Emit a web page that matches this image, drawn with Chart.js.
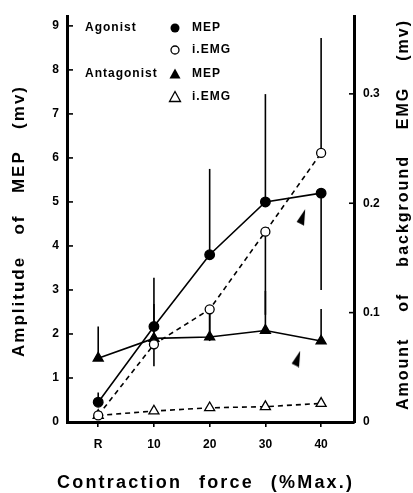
<!DOCTYPE html>
<html>
<head>
<meta charset="utf-8">
<script src="https://cdn.jsdelivr.net/npm/chart.js@4/dist/chart.umd.min.js"></script>
<style>
html,body{margin:0;padding:0;background:#fff;}
#wrap{width:413px;height:493px;position:relative;}
</style>
</head>
<body>
<div id="wrap"><canvas id="c" width="413" height="493"></canvas></div>
<script>
// ---- data ----
const categories = ['R', '10', '20', '30', '40'];
const forceX = [0, 10, 20, 30, 40];

const agonistMEP      = [0.45, 2.17, 3.80, 5.00, 5.20];
const agonistMEPUpper = [0.67, 3.28, 5.75, 7.45, null];
const agonistMEPLower = [null, null, null, null, 3.00];

const agonistEMG      = [0.006, 0.071, 0.103, 0.174, 0.246];
const agonistEMGUpper = [null, null, null, null, 0.351];
const agonistEMGLower = [null, 0.051, 0.074, 0.098, null];

const antagonistMEP      = [1.45, 1.90, 1.93, 2.08, 1.84];
const antagonistMEPUpper = [2.17, 2.68, 2.50, 2.98, 2.57];

const antagonistEMG = [0.006, 0.010, 0.013, 0.014, 0.017];

const leftTicks  = [0, 1, 2, 3, 4, 5, 6, 7, 8, 9];
const rightTicks = [0, 0.1, 0.2, 0.3];

const arrowX = [36.4, 35.5];
const arrowY = [4.65, 1.43];

// ---- helpers ----
const FONT = "'Liberation Sans', Arial, Helvetica, sans-serif";
Chart.defaults.font.family = FONT;
Chart.defaults.font.weight = 'bold';
Chart.defaults.color = '#000';

function pts(xs, ys) { return xs.map((x, i) => ({ x: x, y: ys[i] })); }

const dart = document.createElement('canvas');
dart.width = 10; dart.height = 17;
(function () {
  const d = dart.getContext('2d');
  d.fillStyle = '#000';
  d.beginPath();
  d.moveTo(9.2, 0.3);
  d.lineTo(0.6, 13.0);
  d.lineTo(8.0, 16.7);
  d.closePath();
  d.fill();
})();

// draw a line of words along +x, from start to end, uniform letter spacing, gaps fitted
function drawSpacedLine(ctx, words, start, end, size, ls) {
  ctx.font = 'bold ' + size + 'px ' + FONT;
  ctx.letterSpacing = '0px';
  const widths = words.map(w => ctx.measureText(w).width + ls * (w.length - 1));
  const total = widths.reduce((s, v) => s + v, 0);
  const gap = (end - start - total) / (words.length - 1);
  ctx.letterSpacing = ls + 'px';
  ctx.textAlign = 'left';
  ctx.textBaseline = 'middle';
  let x = start;
  words.forEach((w, i) => {
    ctx.fillText(w, x, 0);
    x += widths[i] + gap;
  });
  ctx.letterSpacing = '0px';
}

const errorBars = [
  { axis: 'y', vals: agonistMEP, hi: agonistMEPUpper, lo: agonistMEPLower },
  { axis: 'y2', vals: agonistEMG, hi: agonistEMGUpper, lo: agonistEMGLower },
  { axis: 'y', vals: antagonistMEP, hi: antagonistMEPUpper, lo: null }
];

const figurePlugin = {
  id: 'figure',
  beforeDatasetsDraw(chart) {
    const ctx = chart.ctx, xs = chart.scales.x;
    ctx.save();
    ctx.strokeStyle = '#000';
    ctx.lineWidth = 1.6;
    errorBars.forEach(b => {
      const ys = chart.scales[b.axis];
      b.vals.forEach((v, i) => {
        const px = xs.getPixelForValue(forceX[i]);
        const py = ys.getPixelForValue(v);
        [b.hi, b.lo].forEach(arr => {
          if (!arr || arr[i] == null) return;
          ctx.beginPath();
          ctx.moveTo(px, py);
          ctx.lineTo(px, ys.getPixelForValue(arr[i]));
          ctx.stroke();
        });
      });
    });
    ctx.restore();
  },
  afterDraw(chart) {
    const ctx = chart.ctx, a = chart.chartArea;
    const y = chart.scales.y, y2 = chart.scales.y2;
    ctx.save();
    ctx.strokeStyle = '#000';
    ctx.fillStyle = '#000';
    // inward ticks
    ctx.lineWidth = 1.6;
    leftTicks.forEach(t => {
      if (t === 0) return;
      const p = y.getPixelForValue(t);
      ctx.beginPath(); ctx.moveTo(a.left, p); ctx.lineTo(a.left + 6, p); ctx.stroke();
    });
    rightTicks.forEach(t => {
      if (t === 0) return;
      const p = y2.getPixelForValue(t);
      ctx.beginPath(); ctx.moveTo(a.right, p); ctx.lineTo(a.right - 5, p); ctx.stroke();
    });

    // legend
    const lx = 85, sx = 175, tx = 192;
    const rows = [28, 50, 74, 97];
    ctx.font = 'bold 12px ' + FONT;
    ctx.letterSpacing = '1px';
    ctx.textBaseline = 'middle';
    ctx.textAlign = 'left';
    ctx.fillText('Agonist', lx, rows[0]);
    ctx.fillText('Antagonist', lx, rows[2]);
    ctx.fillText('MEP', tx, rows[0]);
    ctx.fillText('i.EMG', tx, rows[1]);
    ctx.fillText('MEP', tx, rows[2]);
    ctx.fillText('i.EMG', tx, rows[3]);
    ctx.letterSpacing = '0px';
    ctx.lineWidth = 1.3;
    ctx.beginPath(); ctx.arc(sx, rows[0], 4.5, 0, Math.PI * 2); ctx.fill();
    ctx.beginPath(); ctx.arc(sx, rows[1], 4, 0, Math.PI * 2); ctx.stroke();
    const tri = (cy, fill) => {
      ctx.beginPath();
      ctx.moveTo(sx, cy - 5.5); ctx.lineTo(sx + 5.5, cy + 4.5); ctx.lineTo(sx - 5.5, cy + 4.5); ctx.closePath();
      fill ? ctx.fill() : ctx.stroke();
    };
    tri(rows[2], true);
    tri(rows[3], false);

    // axis titles
    ctx.save();
    ctx.translate(0, 483);
    drawSpacedLine(ctx, ['Contraction', 'force', '(%Max.)'], 57, 352, 18, 2.2);
    ctx.restore();

    ctx.save();
    ctx.translate(19, 0);
    ctx.rotate(-Math.PI / 2);
    drawSpacedLine(ctx, ['Amplitude', 'of', 'MEP', '(mv)'], -357, -87, 17, 2.0);
    ctx.restore();

    ctx.save();
    ctx.translate(404, 0);
    ctx.rotate(-Math.PI / 2);
    drawSpacedLine(ctx, ['Amount', 'of', 'background', 'EMG', '(mv)'], -410, -21, 16, 2.0);
    ctx.restore();

    ctx.restore();
  }
};

const lineBase = { borderColor: '#000', borderWidth: 1.6, pointBorderColor: '#000', pointBorderWidth: 1.3, tension: 0, fill: false };

new Chart(document.getElementById('c'), {
  type: 'line',
  data: {
    datasets: [
      Object.assign({}, lineBase, { label: 'Agonist i.EMG', yAxisID: 'y2', data: pts(forceX, agonistEMG),
        borderDash: [5, 4], pointStyle: 'circle', pointRadius: 4.5, pointBackgroundColor: '#fff' }),
      Object.assign({}, lineBase, { label: 'Antagonist i.EMG', yAxisID: 'y2', data: pts(forceX, antagonistEMG),
        borderDash: [5, 4], pointStyle: 'triangle', pointRadius: 5.8, pointBackgroundColor: '#fff' }),
      Object.assign({}, lineBase, { label: 'Agonist MEP', yAxisID: 'y', data: pts(forceX, agonistMEP),
        pointStyle: 'circle', pointRadius: 4.8, pointBackgroundColor: '#000' }),
      Object.assign({}, lineBase, { label: 'Antagonist MEP', yAxisID: 'y', data: pts(forceX, antagonistMEP),
        pointStyle: 'triangle', pointRadius: 5.8, pointBackgroundColor: '#000' }),
      { label: 'arrows', yAxisID: 'y', data: pts(arrowX, arrowY), showLine: false,
        pointStyle: dart, pointRadius: 6 }
    ]
  },
  options: {
    responsive: false,
    animation: false,
    events: [],
    layout: { padding: { top: 10, left: 0, right: 0, bottom: 0 } },
    plugins: { legend: { display: false }, title: { display: false }, tooltip: { enabled: false } },
    scales: {
      x: {
        type: 'linear', min: -5.6, max: 45.9,
        afterBuildTicks: s => { s.ticks = forceX.map(v => ({ value: v })); },
        afterFit: s => { s.height = 71; },
        ticks: { callback: (v) => categories[forceX.indexOf(v)], font: { size: 12, weight: 'bold' }, padding: 10, maxRotation: 0, autoSkip: false, color: '#000' },
        grid: { display: true, drawOnChartArea: false, drawTicks: true, tickLength: 5, color: '#000', lineWidth: 1.6 },
        border: { display: true, color: '#000', width: 3 }
      },
      y: {
        type: 'linear', position: 'left', min: 0, max: 9.22,
        afterBuildTicks: s => { s.ticks = leftTicks.map(v => ({ value: v })); },
        afterFit: s => { s.width = 67; },
        ticks: { font: { size: 12, weight: 'bold' }, padding: 8, color: '#000' },
        grid: { display: false, drawTicks: false },
        border: { display: true, color: '#000', width: 3 }
      },
      y2: {
        type: 'linear', position: 'right', min: 0, max: 0.371,
        afterBuildTicks: s => { s.ticks = rightTicks.map(v => ({ value: v })); },
        afterFit: s => { s.width = 59; },
        ticks: { callback: v => (v === 0 ? '0' : v.toFixed(1)), font: { size: 12, weight: 'bold' }, padding: 9, color: '#000' },
        grid: { display: false, drawTicks: false },
        border: { display: true, color: '#000', width: 3 }
      }
    }
  },
  plugins: [figurePlugin]
});
</script>
</body>
</html>
